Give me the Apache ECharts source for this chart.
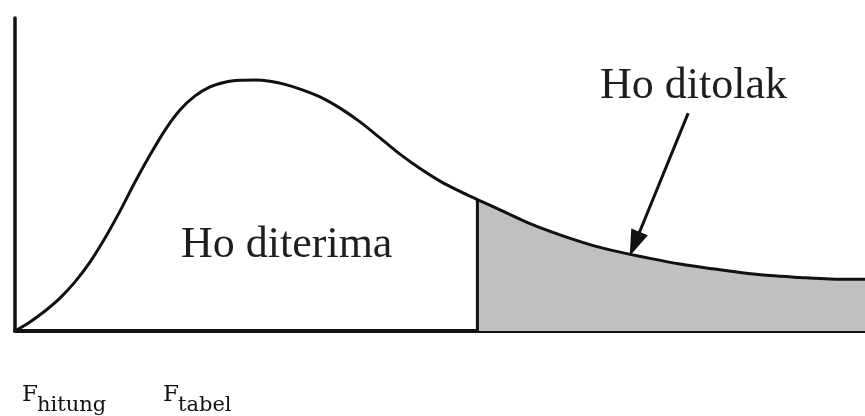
<!DOCTYPE html>
<html>
<head>
<meta charset="utf-8">
<script src="https://cdn.jsdelivr.net/npm/echarts@6/dist/echarts.min.js"></script>
<style>html,body{margin:0;padding:0;background:#fff;}#c{width:865px;height:416px;}</style>
</head>
<body>
<div id="c"></div>
<script>
// F distribution sketch (x in arbitrary units 0..10, density 0..1)
const curveX = [0, 0.176, 0.353, 0.529, 0.706, 0.882, 1.059, 1.235, 1.412, 1.588, 1.765, 1.941, 2.118, 2.294, 2.471, 2.647, 2.824, 3.0, 3.176, 3.353, 3.588, 3.824, 4.059, 4.294, 4.529, 4.765, 5.0, 5.235, 5.44, 5.706, 6.059, 6.412, 6.765, 7.118, 7.471, 7.824, 8.176, 8.529, 8.882, 9.235, 9.588, 10.0];
const curveY = [0, 0.029, 0.064, 0.105, 0.157, 0.220, 0.297, 0.383, 0.476, 0.562, 0.642, 0.706, 0.751, 0.780, 0.795, 0.801, 0.802, 0.798, 0.788, 0.773, 0.748, 0.712, 0.668, 0.617, 0.565, 0.519, 0.479, 0.446, 0.420, 0.387, 0.343, 0.307, 0.276, 0.252, 0.232, 0.214, 0.200, 0.187, 0.177, 0.171, 0.166, 0.165];
const criticalX = 5.44;          // F tabel position
const arrowFrom = [7.92, 0.696];
const arrowTo = [7.29, 0.278];
const textAccept = 'Ho diterima';
const textReject = 'Ho ditolak';
const labelHitung = ['F', 'hitung'];
const labelTabel = ['F', 'tabel'];

const curve = curveX.map((x, i) => [x, curveY[i]]);
const critIdx = curveX.indexOf(criticalX);
const tail = curve.slice(critIdx);
const critLine = [[criticalX, 0], [criticalX, curveY[critIdx]]];

const chart = echarts.init(document.getElementById('c'), null, {renderer: 'canvas'});
const serif = '"Liberation Serif", "Times New Roman", serif';
const mathSerif = '"DejaVu Serif", serif';

chart.setOption({
  animation: false,
  backgroundColor: '#ffffff',
  grid: {left: 15, right: 0, top: 18, bottom: 85},
  xAxis: {
    type: 'value', min: 0, max: 10,
    axisLine: {show: true, onZero: false, lineStyle: {color: '#111', width: 4}},
    axisTick: {show: false}, axisLabel: {show: false}, splitLine: {show: false}
  },
  yAxis: {
    type: 'value', min: 0, max: 1,
    axisLine: {show: true, onZero: false, lineStyle: {color: '#111', width: 3.5}},
    axisTick: {show: false}, axisLabel: {show: false}, splitLine: {show: false}
  },
  series: [
    {
      type: 'line', data: tail, smooth: 0.3, symbol: 'none',
      lineStyle: {width: 0}, areaStyle: {color: '#c0c0c0', opacity: 1}, z: 1
    },
    {
      type: 'line', data: critLine, symbol: 'none',
      lineStyle: {color: '#111', width: 3}, z: 3
    },
    {
      type: 'line', data: curve, smooth: 0.3, symbol: 'none',
      lineStyle: {color: '#111', width: 3}, z: 4,
      markLine: {
        silent: true, symbol: ['none', 'triangle'], symbolSize: [18, 26],
        label: {show: false},
        lineStyle: {color: '#111', width: 3, type: 'solid'},
        data: [[{coord: arrowFrom}, {coord: arrowTo}]]
      }
    }
  ],
  graphic: [
    {type: 'text', left: 181, top: 223, style: {text: textAccept, font: '44px ' + serif, fill: '#1e1e1e'}},
    {type: 'text', left: 600, top: 64, style: {text: textReject, font: '44px ' + serif, fill: '#1e1e1e'}},
    {type: 'text', left: 22, top: 384, style: {text: labelHitung[0], font: '23px ' + mathSerif, fill: '#111'}},
    {type: 'text', left: 37, top: 395, style: {text: labelHitung[1], font: '21px ' + mathSerif, fill: '#111'}},
    {type: 'text', left: 163, top: 384, style: {text: labelTabel[0], font: '23px ' + mathSerif, fill: '#111'}},
    {type: 'text', left: 178, top: 395, style: {text: labelTabel[1], font: '21px ' + mathSerif, fill: '#111'}}
  ]
});
</script>
</body>
</html>
